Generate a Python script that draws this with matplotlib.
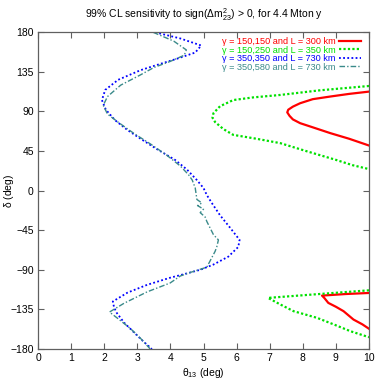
import matplotlib
matplotlib.use("Agg")
import matplotlib.pyplot as plt
from matplotlib import font_manager

fams = {f.name for f in font_manager.fontManager.ttflist}
fam = ['Liberation Sans Narrow', 'DejaVu Sans'] if 'Liberation Sans Narrow' in fams else ['Liberation Sans', 'DejaVu Sans']
plt.rcParams['font.family'] = fam
plt.rcParams['mathtext.fontset'] = 'custom'
plt.rcParams['mathtext.rm'] = fam[0]
plt.rcParams['mathtext.it'] = fam[0]

title = r'99% CL sensitivity to sign($\Delta$m$^2_{23}$) > 0, for 4.4 Mton y'
xlabel = r'$\theta_{13}$ (deg)'
ylabel = r'$\delta$ (deg)'
xticks = [0, 1, 2, 3, 4, 5, 6, 7, 8, 9, 10]
yticks = [-180, -135, -90, -45, 0, 45, 90, 135, 180]

labels = ['γ = 150,150 and L = 300 km', 'γ = 150,250 and L = 350 km',
          'γ = 350,350 and L = 730 km', 'γ = 350,580 and L = 730 km']

# red: gamma 150,150, L=300 (two branches)
red_up_t = [10, 9.4, 8.83, 8.3, 7.92, 7.7, 7.56, 7.53, 7.6, 7.7, 7.92, 8.3, 8.83, 9.4, 10]
red_up_d = [112.6, 110, 107, 104, 99.4, 95.5, 92, 89, 85, 81, 76.7, 72, 65.4, 59, 51.3]
red_lo_t = [10, 9.3, 8.58, 8.65, 8.77, 9.0, 9.23, 9.53, 9.8, 10]
red_lo_d = [-116.3, -117.5, -119.3, -122, -127.6, -132, -137, -146.5, -152, -157]

# green: gamma 150,250, L=350
grn_up_t = [10, 8.5, 7.32, 6.5, 5.9, 5.5, 5.3, 5.27, 5.35, 5.6, 5.9, 6.6, 7.32, 8.1, 9.0, 9.5, 10]
grn_up_d = [119, 114, 108.8, 106, 103, 96, 88, 83, 78, 70, 63.4, 59, 54, 45, 35, 29, 24.5]
grn_lo_t = [10, 8.5, 6.95, 7.3, 7.72, 8.43, 8.93, 9.44, 10]
grn_lo_d = [-113.3, -117.5, -121.9, -129, -137, -144.6, -152, -159.8, -166.6]

# blue: gamma 350,350, L=730
blu_t = [3.54, 4.3, 4.93, 4.75, 4.2, 3.6, 3.1, 2.42, 2.03, 1.93, 2.05, 2.33, 2.7, 3.14, 3.6, 4.14,
         4.5, 4.8, 5.0, 5.1, 5.25, 5.5, 5.8, 6.09, 6.05, 5.75, 5.3, 4.9, 4.3, 3.99, 3.3, 2.7, 2.26,
         2.3, 2.38, 2.6, 2.95, 3.2, 3.44]
blu_d = [180, 173, 165, 157, 150, 143, 137, 126, 114.5, 103, 92, 80, 69, 58, 47, 35,
         24, 12, 3, -5, -14, -28, -42, -56, -64, -75, -84, -90, -96, -99, -107, -116, -126,
         -133, -139, -150, -163, -172, -180]

# teal: gamma 350,580, L=730
tea_t = [3.48, 4.1, 4.48, 4.42, 4.0, 3.5, 3.09, 2.5, 2.1, 1.97, 2.1, 2.45, 2.9, 3.4, 3.9, 4.3,
         4.55, 4.66, 4.75, 4.8, 4.95, 4.82, 5.0, 4.9, 5.05, 5.1, 5.3, 5.45, 5.4, 5.35, 5.1, 4.6,
         4.3, 3.99, 3.3, 2.6, 2.16, 2.4, 2.8, 3.1, 3.39]
tea_d = [180, 170, 160, 154, 147, 140, 131.5, 120, 107, 97, 87, 77, 65, 53, 40, 28,
         18, 12, 3, -10, -14, -17, -21, -25, -30, -35, -50, -56, -64, -69, -87, -93,
         -97, -105, -115, -128, -138, -145, -157, -168, -180]

fig = plt.figure(figsize=(3.82, 3.82), dpi=100)
ax = fig.add_axes([0.0995, 0.0864, 0.8665, 0.829])

c_red, c_grn, c_blu, c_tea = '#ff0000', '#00e000', '#0000ff', '#3a8a8a'
l1, = ax.plot(red_up_t, red_up_d, color=c_red, lw=1.6, label=labels[0])
ax.plot(red_lo_t, red_lo_d, color=c_red, lw=1.6)
l2, = ax.plot(grn_up_t, grn_up_d, color=c_grn, lw=1.6, ls=(0, (1, 1)), label=labels[1])
ax.plot(grn_lo_t, grn_lo_d, color=c_grn, lw=1.6, ls=(0, (1, 1)))
l3, = ax.plot(blu_t, blu_d, color=c_blu, lw=1.3, ls=(0, (1, 1.3)), label=labels[2])
l4, = ax.plot(tea_t, tea_d, color=c_tea, lw=1.0, ls=(0, (4, 1.5, 1, 1.5)), label=labels[3])

ax.set_xlim(0, 10)
ax.set_ylim(-180, 180)
ax.set_xticks(xticks)
ax.set_yticks(yticks)
ax.tick_params(direction='in', length=4, width=0.8, color='#606060', top=True, right=True,
               labelsize=7.5, pad=3)
for s in ax.spines.values():
    s.set_color('#606060')
    s.set_linewidth(0.9)

ax.set_title(title, fontsize=7.5, pad=10)
ax.set_xlabel(xlabel, fontsize=7.5, labelpad=2)
ax.set_ylabel(ylabel, fontsize=7.5)
ax.yaxis.set_label_coords(-0.068, 0.5)

leg = ax.legend(handles=[l1, l2, l3, l4], loc='upper right', bbox_to_anchor=(0.975, 0.985),
                frameon=False, markerfirst=False, labelcolor='linecolor', fontsize=6.6,
                handlelength=2.4, handletextpad=0.35, labelspacing=-0.05, borderpad=0.0,
                borderaxespad=0.0)

fig.savefig('out.png', dpi=100)
